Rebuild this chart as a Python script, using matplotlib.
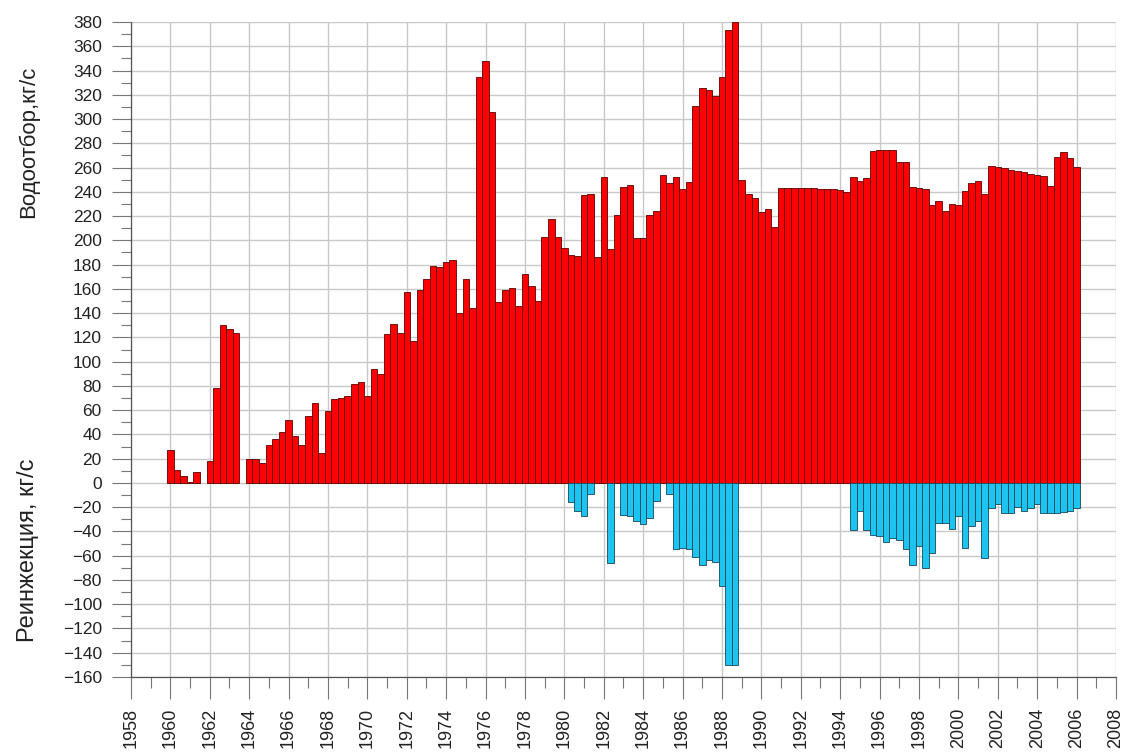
import numpy as np
import matplotlib
matplotlib.use('Agg')
import matplotlib.pyplot as plt
from matplotlib.ticker import MultipleLocator

plt.rcParams['font.family'] = ['Liberation Sans', 'DejaVu Sans']

# три значения в год, 1960 .. 2006
periods = 1960 + np.arange(139) / 3

# водоотбор, кг/с
vodootbor = [
    27, 11, 5.5,      1, 9, 0,            # 1960-61
    18, 78, 130,      127, 124, 0,        # 1962-63
    20, 20, 16.5,     31, 36, 42,         # 1964-65
    51.5, 39, 31,     55.5, 66, 25,       # 1966-67
    59, 69, 70,       72, 81.5, 83,       # 1968-69
    71.5, 94, 90,     123, 131, 124,      # 1970-71
    157, 117, 159,    168, 179, 178,      # 1972-73
    182, 184, 140,    168, 144, 335,      # 1974-75
    348, 306, 149,    159, 161, 146,      # 1976-77
    172, 162, 150,    203, 218, 203,      # 1978-79
    194, 188, 187,    237, 238, 186,      # 1980-81
    252, 193, 221,    244, 246, 202,      # 1982-83
    202, 221, 224,    254, 247, 252,      # 1984-85
    242, 248, 311,    326, 324, 319,      # 1986-87
    335, 373, 380,    250, 238, 234.5,    # 1988-89
    223, 226, 211,    243, 243, 243,      # 1990-91
    243, 243, 243,    242.5, 242, 242,    # 1992-93
    241.5, 239.5, 252, 249, 251, 274,     # 1994-95
    274.5, 274.5, 274.5, 264.5, 264.5, 244,  # 1996-97
    243.5, 242, 229,  232.5, 224, 230,    # 1998-99
    229.5, 241, 247,  249, 238.5, 261,    # 2000-01
    260.5, 259.5, 258, 257, 256, 255,     # 2002-03
    254, 253, 245,    268.5, 272.5, 267.5,  # 2004-05
    260.5,                                # 2006
]

# реинжекция, кг/с
reinjection = [0] * 60 + [
    0, -16, -23.5,    -27.5, -9, 0,       # 1980-81
    0, -66, 0,        -26.5, -27.5, -31,  # 1982-83
    -34, -29, -15,    0, -9, -54.5,       # 1984-85
    -54, -54.5, -61,  -68, -63.5, -65,    # 1986-87
    -85, -150.5, -150,                    # 1988
] + [0] * 15 + [
    0, 0, -39,        -23.5, -38.5, -43,  # 1994-95
    -44, -48.5, -45.5, -47, -54.5, -67.5, # 1996-97
    -52, -70, -58,    -33, -33, -38,      # 1998-99
    -27.5, -54, -35.5, -31.5, -61.5, -21, # 2000-01
    -17, -25, -25,    -19.5, -23, -21,    # 2002-03
    -17.5, -25, -25,  -24.5, -24, -23,    # 2004-05
    -21,                                  # 2006
]

vodootbor = np.array(vodootbor, dtype=float)
reinjection = np.array(reinjection, dtype=float)

fig = plt.figure(figsize=(11.25, 7.52), dpi=100)
ax = fig.add_axes([131 / 1125, 1 - 677 / 752, 985 / 1125, 655 / 752])

m = vodootbor != 0
ax.bar(periods[m], vodootbor[m], width=1/3, align='center',
       color='#ff0000', edgecolor='#5a0000', linewidth=0.6, zorder=3)
m = reinjection != 0
ax.bar(periods[m], reinjection[m], width=1/3, align='center',
       color='#1ec4f0', edgecolor='#16465a', linewidth=0.6, zorder=3)

ax.set_xlim(1958, 2008)
ax.set_ylim(-160, 380)
ax.xaxis.set_major_locator(MultipleLocator(2))
ax.xaxis.set_minor_locator(MultipleLocator(1))
ax.yaxis.set_major_locator(MultipleLocator(20))
ax.yaxis.set_minor_locator(MultipleLocator(10))
ax.grid(which='major', color='#c8c8c8', linewidth=1.0, zorder=0)
ax.set_axisbelow(True)

for s in ['top', 'right']:
    ax.spines[s].set_visible(False)
for s in ['left', 'bottom']:
    ax.spines[s].set_color('#555555')
    ax.spines[s].set_linewidth(0.9)

ax.tick_params(axis='x', which='major', direction='out', length=16, width=0.8,
               color='#777777', pad=6, labelsize=13, labelrotation=90)
ax.tick_params(axis='x', which='minor', direction='out', length=8, width=0.8,
               color='#777777')
ax.tick_params(axis='y', which='major', direction='out', length=14, width=0.8,
               color='#777777', pad=7, labelsize=12.5)
ax.tick_params(axis='y', which='minor', direction='out', length=7, width=0.8,
               color='#777777')
for lab in ax.get_xticklabels() + ax.get_yticklabels():
    lab.set_color('#222222')

fig.text(0.025, 1 - 142 / 752, 'Водоотбор,кг/с', rotation=90, fontsize=16,
         ha='center', va='center', color='#222222')
fig.text(0.025, 1 - 550 / 752, 'Реинжекция, кг/с', rotation=90, fontsize=17,
         ha='center', va='center', color='#222222')

fig.savefig('out.png', dpi=100, facecolor='white')
